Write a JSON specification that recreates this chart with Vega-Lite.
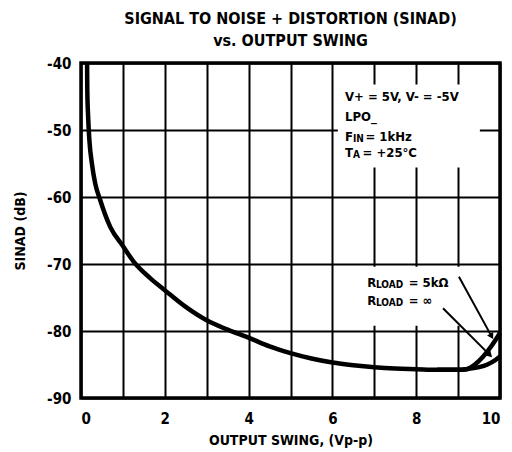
{
  "$schema": "https://vega.github.io/schema/vega-lite/v6.json",
  "width": 419,
  "height": 335,
  "autosize": {"type": "none"},
  "padding": {"left": 81, "top": 63, "right": 12, "bottom": 54},
  "background": "white",
  "config": {
    "font": "DejaVu Sans Condensed",
    "view": {"stroke": "black", "strokeWidth": 3.5},
    "axis": {
      "grid": true, "gridColor": "black", "gridWidth": 2, "gridOpacity": 1,
      "domain": false, "ticks": false,
      "labelColor": "black", "labelFontSize": 15, "labelFontWeight": "bold",
      "labelFont": "DejaVu Sans Condensed",
      "titleColor": "black", "titleFontSize": 14, "titleFontWeight": "bold",
      "titleFont": "DejaVu Sans Condensed"
    },
    "axisX": {"labelPadding": 13, "titlePadding": 7},
    "axisY": {"labelPadding": 10, "titlePadding": 19}
  },
  "title": {
    "text": ["SIGNAL TO NOISE + DISTORTION (SINAD)", "vs. OUTPUT SWING"],
    "font": "DejaVu Sans Condensed",
    "fontSize": 16, "fontWeight": 900, "color": "black",
    "anchor": "middle", "offset": 5, "lineHeight": 22
  },
  "datasets": {
    "curve": [
      {"load": "5k", "x": 0.145, "y": -40}, {"load": "5k", "x": 0.15, "y": -44}, {"load": "5k", "x": 0.17, "y": -48},
      {"load": "5k", "x": 0.2, "y": -51.5}, {"load": "5k", "x": 0.26, "y": -55}, {"load": "5k", "x": 0.34, "y": -58},
      {"load": "5k", "x": 0.45, "y": -60.3}, {"load": "5k", "x": 0.7, "y": -64.5}, {"load": "5k", "x": 1.0, "y": -67.3},
      {"load": "5k", "x": 1.25, "y": -69.6}, {"load": "5k", "x": 1.65, "y": -72.1}, {"load": "5k", "x": 2.0, "y": -73.9},
      {"load": "5k", "x": 2.5, "y": -76.4}, {"load": "5k", "x": 3.0, "y": -78.4}, {"load": "5k", "x": 3.5, "y": -79.8},
      {"load": "5k", "x": 4.0, "y": -81.0}, {"load": "5k", "x": 4.5, "y": -82.3}, {"load": "5k", "x": 5.0, "y": -83.3},
      {"load": "5k", "x": 5.5, "y": -84.1}, {"load": "5k", "x": 6.0, "y": -84.7}, {"load": "5k", "x": 6.5, "y": -85.1},
      {"load": "5k", "x": 7.0, "y": -85.4}, {"load": "5k", "x": 7.5, "y": -85.6}, {"load": "5k", "x": 8.0, "y": -85.7},
      {"load": "5k", "x": 8.5, "y": -85.8}, {"load": "5k", "x": 9.0, "y": -85.8}, {"load": "5k", "x": 9.2, "y": -85.7},
      {"load": "5k", "x": 9.4, "y": -85.0}, {"load": "5k", "x": 9.6, "y": -83.8}, {"load": "5k", "x": 9.8, "y": -82.2},
      {"load": "5k", "x": 10.0, "y": -80.3},
      {"load": "inf", "x": 8.5, "y": -85.8}, {"load": "inf", "x": 9.0, "y": -85.8}, {"load": "inf", "x": 9.2, "y": -85.7},
      {"load": "inf", "x": 9.5, "y": -85.4}, {"load": "inf", "x": 9.7, "y": -85.0}, {"load": "inf", "x": 9.85, "y": -84.5},
      {"load": "inf", "x": 10.0, "y": -83.8}
    ],
    "boxes": [
      {"x": 6.13, "x2": 9.52, "y": -43.2, "y2": -55.6},
      {"x": 6.75, "x2": 9.3, "y": -70.4, "y2": -79.2}
    ],
    "main": [
      {"x": 6.3, "y": -45.0, "t": "V+ = 5V, V- = -5V"},
      {"x": 6.3, "y": -48.0, "t": "LPO_"},
      {"x": 6.3, "y": -51.0, "t": "F"},
      {"x": 6.79, "y": -51.0, "t": "= 1kHz"},
      {"x": 6.3, "y": -53.4, "t": "T"},
      {"x": 6.72, "y": -53.4, "t": "= +25°C"},
      {"x": 6.83, "y": -72.9, "t": "R"},
      {"x": 7.82, "y": -72.9, "t": "= 5kΩ"},
      {"x": 6.83, "y": -75.5, "t": "R"},
      {"x": 7.82, "y": -75.5, "t": "= ∞"}
    ],
    "sub": [
      {"x": 6.49, "y": -51.0, "t": "IN"},
      {"x": 6.49, "y": -53.4, "t": "A"},
      {"x": 7.04, "y": -72.9, "t": "LOAD"},
      {"x": 7.04, "y": -75.5, "t": "LOAD"}
    ],
    "arrows": [
      {"a": "5k", "x": 9.02, "y": -71.9, "x2": 9.8, "y2": -80.8},
      {"a": "inf", "x": 8.64, "y": -76.6, "x2": 9.76, "y2": -83.6}
    ]
  },
  "layer": [
    {
      "data": {"name": "boxes"},
      "mark": {"type": "rect", "fill": "white"},
      "encoding": {
        "x": {"field": "x", "type": "quantitative", "scale": {"domain": [0, 10], "nice": false},
              "axis": {"values": [0,1,2,3,4,5,6,7,8,9,10], "labelExpr": "datum.value % 2 === 0 ? datum.label : ''", "title": "OUTPUT SWING, (Vp-p)"}},
        "x2": {"field": "x2"},
        "y": {"field": "y", "type": "quantitative", "scale": {"domain": [-90, -40], "nice": false},
              "axis": {"values": [-90,-80,-70,-60,-50,-40], "labelExpr": "toString(datum.value)", "title": "SINAD (dB)"}},
        "y2": {"field": "y2"}
      }
    },
    {
      "data": {"name": "curve"},
      "mark": {"type": "line", "color": "black", "strokeWidth": 4.5, "interpolate": "monotone"},
      "encoding": {
        "x": {"field": "x", "type": "quantitative", "title": "OUTPUT SWING, (Vp-p)"},
        "y": {"field": "y", "type": "quantitative", "title": "SINAD (dB)"},
        "detail": {"field": "load"}
      }
    },
    {
      "data": {"name": "arrows"},
      "mark": {"type": "rule", "color": "black", "strokeWidth": 2},
      "encoding": {
        "x": {"field": "x", "type": "quantitative", "title": "OUTPUT SWING, (Vp-p)"},
        "y": {"field": "y", "type": "quantitative", "title": "SINAD (dB)"},
        "x2": {"field": "x2"},
        "y2": {"field": "y2"}
      }
    },
    {
      "data": {"name": "arrows"},
      "transform": [{"filter": "datum.a === '5k'"}],
      "mark": {"type": "point", "shape": "triangle-down", "filled": true, "color": "black", "size": 50, "opacity": 1, "angle": 331},
      "encoding": {
        "x": {"field": "x2", "type": "quantitative", "title": "OUTPUT SWING, (Vp-p)"},
        "y": {"field": "y2", "type": "quantitative", "title": "SINAD (dB)"}
      }
    },
    {
      "data": {"name": "arrows"},
      "transform": [{"filter": "datum.a === 'inf'"}],
      "mark": {"type": "point", "shape": "triangle-down", "filled": true, "color": "black", "size": 50, "opacity": 1, "angle": 315},
      "encoding": {
        "x": {"field": "x2", "type": "quantitative", "title": "OUTPUT SWING, (Vp-p)"},
        "y": {"field": "y2", "type": "quantitative", "title": "SINAD (dB)"}
      }
    },
    {
      "data": {"name": "main"},
      "mark": {"type": "text", "align": "left", "baseline": "middle", "fontSize": 13, "fontWeight": "bold", "color": "black", "font": "DejaVu Sans Condensed"},
      "encoding": {
        "x": {"field": "x", "type": "quantitative", "title": "OUTPUT SWING, (Vp-p)"},
        "y": {"field": "y", "type": "quantitative", "title": "SINAD (dB)"},
        "text": {"field": "t"}
      }
    },
    {
      "data": {"name": "sub"},
      "mark": {"type": "text", "align": "left", "baseline": "middle", "fontSize": 10, "fontWeight": "bold", "color": "black", "font": "DejaVu Sans Condensed", "dy": 2},
      "encoding": {
        "x": {"field": "x", "type": "quantitative", "title": "OUTPUT SWING, (Vp-p)"},
        "y": {"field": "y", "type": "quantitative", "title": "SINAD (dB)"},
        "text": {"field": "t"}
      }
    }
  ]
}
